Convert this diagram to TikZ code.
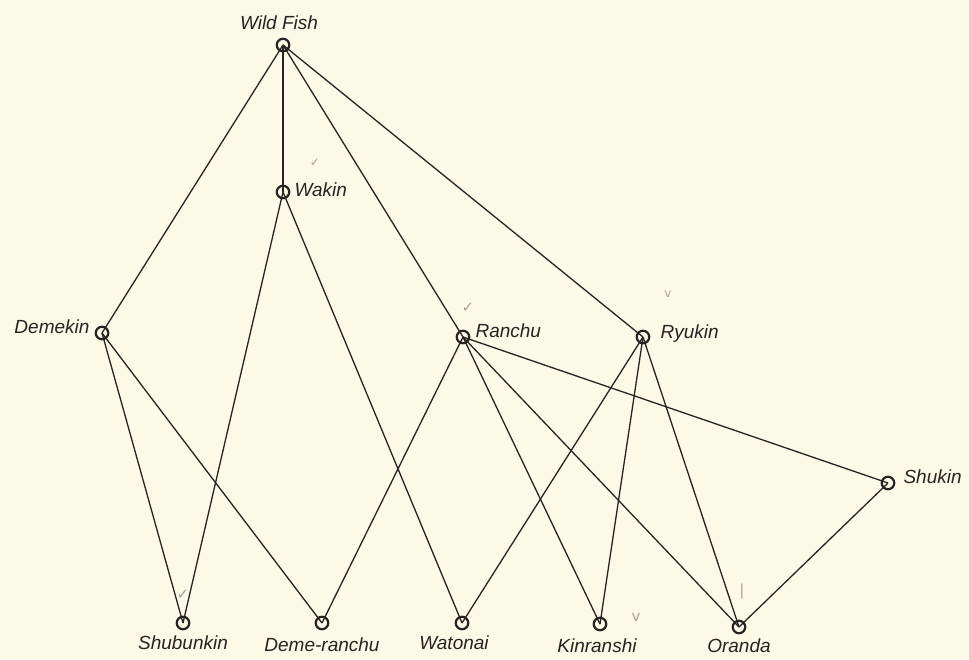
\documentclass[tikz,border=0pt]{standalone}
\usepackage{fontspec}
\setmainfont{Liberation Sans}
\newfontfamily\markfont{DejaVu Sans}
\usetikzlibrary{positioning}
\definecolor{paper}{HTML}{FBFAE6}
\definecolor{ink}{HTML}{2A2222}
\definecolor{pencil}{HTML}{A8A298}

\begin{document}
\begin{tikzpicture}[
        x=1pt, y=-1pt,
        node distance=5pt,
        fish/.style={circle, draw=ink, line width=2.2pt, inner sep=0pt, minimum size=12.5pt},
        tag/.style={font=\fontsize{19}{19}\selectfont\itshape, text=ink, inner sep=1pt},
        link/.style={draw=ink, line width=1.3pt},
        tick/.style={font=\markfont\fontsize{12}{12}\selectfont, text=pencil, inner sep=0pt}
    ]
        \fill[paper] (0,0) rectangle (969,659);
        \useasboundingbox (0,0) rectangle (969,659);

        % breeds
        \node (wild) [fish] at (283,45) {};
        \node (wakin) [fish] at (283,192) {};
        \node (demekin) [fish] at (102,333) {};
        \node (ranchu) [fish] at (463,337) {};
        \node (ryukin) [fish] at (643,337) {};
        \node (shukin) [fish] at (888,483) {};
        \node (shubunkin) [fish] at (183,623) {};
        \node (demeranchu) [fish] at (322,623) {};
        \node (watonai) [fish] at (462,623) {};
        \node (kinranshi) [fish] at (600,624) {};
        \node (oranda) [fish] at (739,627) {};

        % names
        \node [tag, above=7pt of wild, xshift=-4pt] {Wild Fish};
        \node [tag, right=3pt of wakin, yshift=2pt] {Wakin};
        \node [tag, left=4pt of demekin, yshift=6pt] {Demekin};
        \node [tag, right=4pt of ranchu, yshift=6pt] {Ranchu};
        \node [tag, right=9pt of ryukin, yshift=3pt] {Ryukin};
        \node [tag, right=7pt of shukin, yshift=6pt] {Shukin};
        \node [tag, below=4pt of shubunkin] {Shubunkin};
        \node [tag, below=6pt of demeranchu] {Deme-ranchu};
        \node [tag, below=4pt of watonai, xshift=-8pt] {Watonai};
        \node [tag, below=6pt of kinranshi, xshift=-3pt] {Kinranshi};
        \node [tag, below=3pt of oranda] {Oranda};

        % lines of descent
        \foreach \a/\b in {wild/demekin, wild/wakin, wild/ranchu, wild/ryukin,
                wakin/shubunkin, wakin/watonai, demekin/shubunkin, demekin/demeranchu,
                ranchu/demeranchu, ranchu/kinranshi, ranchu/oranda, ranchu/shukin,
                ryukin/watonai, ryukin/kinranshi, ryukin/oranda, shukin/oranda}
            \draw [link] (\a.center) -- (\b.center);

        % pencil marks
        \node [tick] at ([shift={(32,-29)}]wakin) {✓};
        \node [tick, font=\markfont\fontsize{15}{15}\selectfont] at ([shift={(5,-29)}]ranchu) {✓};
        \node [tick] at ([shift={(25,-43)}]ryukin) {v};
        \node [tick, font=\markfont\fontsize{15}{15}\selectfont] at ([shift={(0,-28)}]shubunkin) {✓};
        \node [tick, font=\markfont\fontsize{15}{15}\selectfont] at ([shift={(36,-7)}]kinranshi) {v};
        \node [tick, font=\markfont\fontsize{15}{15}\selectfont] at ([shift={(3,-35)}]oranda) {|};
    \end{tikzpicture}
\end{document}
